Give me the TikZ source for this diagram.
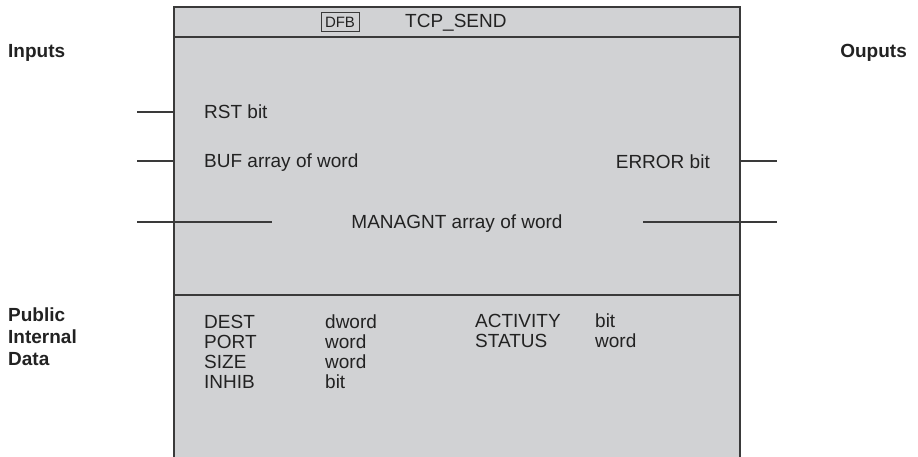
\documentclass[tikz,border=0pt]{standalone}
\usepackage{fontspec}
\setmainfont{Liberation Sans}
\definecolor{boxfill}{HTML}{D1D2D4}
\definecolor{edge}{HTML}{3A3A3A}
\definecolor{ink}{HTML}{222222}
\begin{document}
\begin{tikzpicture}[x=1pt,y=-1pt,
  lbl/.style={inner sep=0pt,text=ink,font=\fontsize{19}{22}\selectfont},
  side/.style={inner sep=0pt,text=ink,font=\fontsize{19}{22}\selectfont\bfseries,align=left},
  pin/.style={draw=edge,line width=1.2pt},
  frame/.style={draw=edge,line width=1.6pt}]
\useasboundingbox (0,0) rectangle (918,456);
% block body
\fill[boxfill] (174,7) rectangle (740,470);
\draw[frame] (174,470) -- (174,7) -- (740,7) -- (740,470);
\draw[frame] (174,37) -- (740,37);
\draw[frame] (174,295) -- (740,295);
% title
\node[draw=edge,line width=1pt,fill=boxfill,inner sep=2pt,minimum width=38pt,minimum height=19pt,text=ink,font=\fontsize{15}{17}\selectfont] (dfb) at (340,22) {DFB};
\node[lbl,anchor=base west] (title) at (405,27) {TCP\_SEND};
% side labels
\node[side,anchor=base west] (inputs) at (8,57) {Inputs};
\node[side,anchor=base east] (outputs) at (907,57) {Ouputs};
\node[side,anchor=north west] (pid) at (8,308) {Public\\Internal\\Data};
% pins
\node[lbl,anchor=base west] (rst) at (204,118) {RST bit};
\node[lbl,anchor=base west] (buf) at (204,167) {BUF array of word};
\node[lbl,anchor=base east] (err) at (710,168) {ERROR bit};
\node[lbl,anchor=base] (man) at (457,228) {MANAGNT array of word};
\coordinate (rstL) at (137,112); \coordinate (rstB) at (174,112);
\coordinate (bufL) at (137,161); \coordinate (bufB) at (174,161);
\coordinate (errR) at (777,161); \coordinate (errB) at (740,161);
\coordinate (manL) at (137,222); \coordinate (manLi) at (272,222);
\coordinate (manR) at (777,222); \coordinate (manRi) at (643,222);
\draw[pin] (rstL) -- (rstB);
\draw[pin] (bufL) -- (bufB);
\draw[pin] (errB) -- (errR);
\draw[pin] (manL) -- (manLi);
\draw[pin] (manRi) -- (manR);
% public internal data
\node[lbl,anchor=base west] (dest) at (204,328) {DEST};
\node[lbl,anchor=base west] (port) at (204,348) {PORT};
\node[lbl,anchor=base west] (size) at (204,368) {SIZE};
\node[lbl,anchor=base west] (inhib) at (204,388) {INHIB};
\node[lbl,anchor=base west] (destt) at (325,328) {dword};
\node[lbl,anchor=base west] (portt) at (325,348) {word};
\node[lbl,anchor=base west] (sizet) at (325,368) {word};
\node[lbl,anchor=base west] (inhibt) at (325,388) {bit};
\node[lbl,anchor=base west] (act) at (475,327) {ACTIVITY};
\node[lbl,anchor=base west] (stat) at (475,347) {STATUS};
\node[lbl,anchor=base west] (actt) at (595,327) {bit};
\node[lbl,anchor=base west] (statt) at (595,347) {word};
\end{tikzpicture}
\end{document}
